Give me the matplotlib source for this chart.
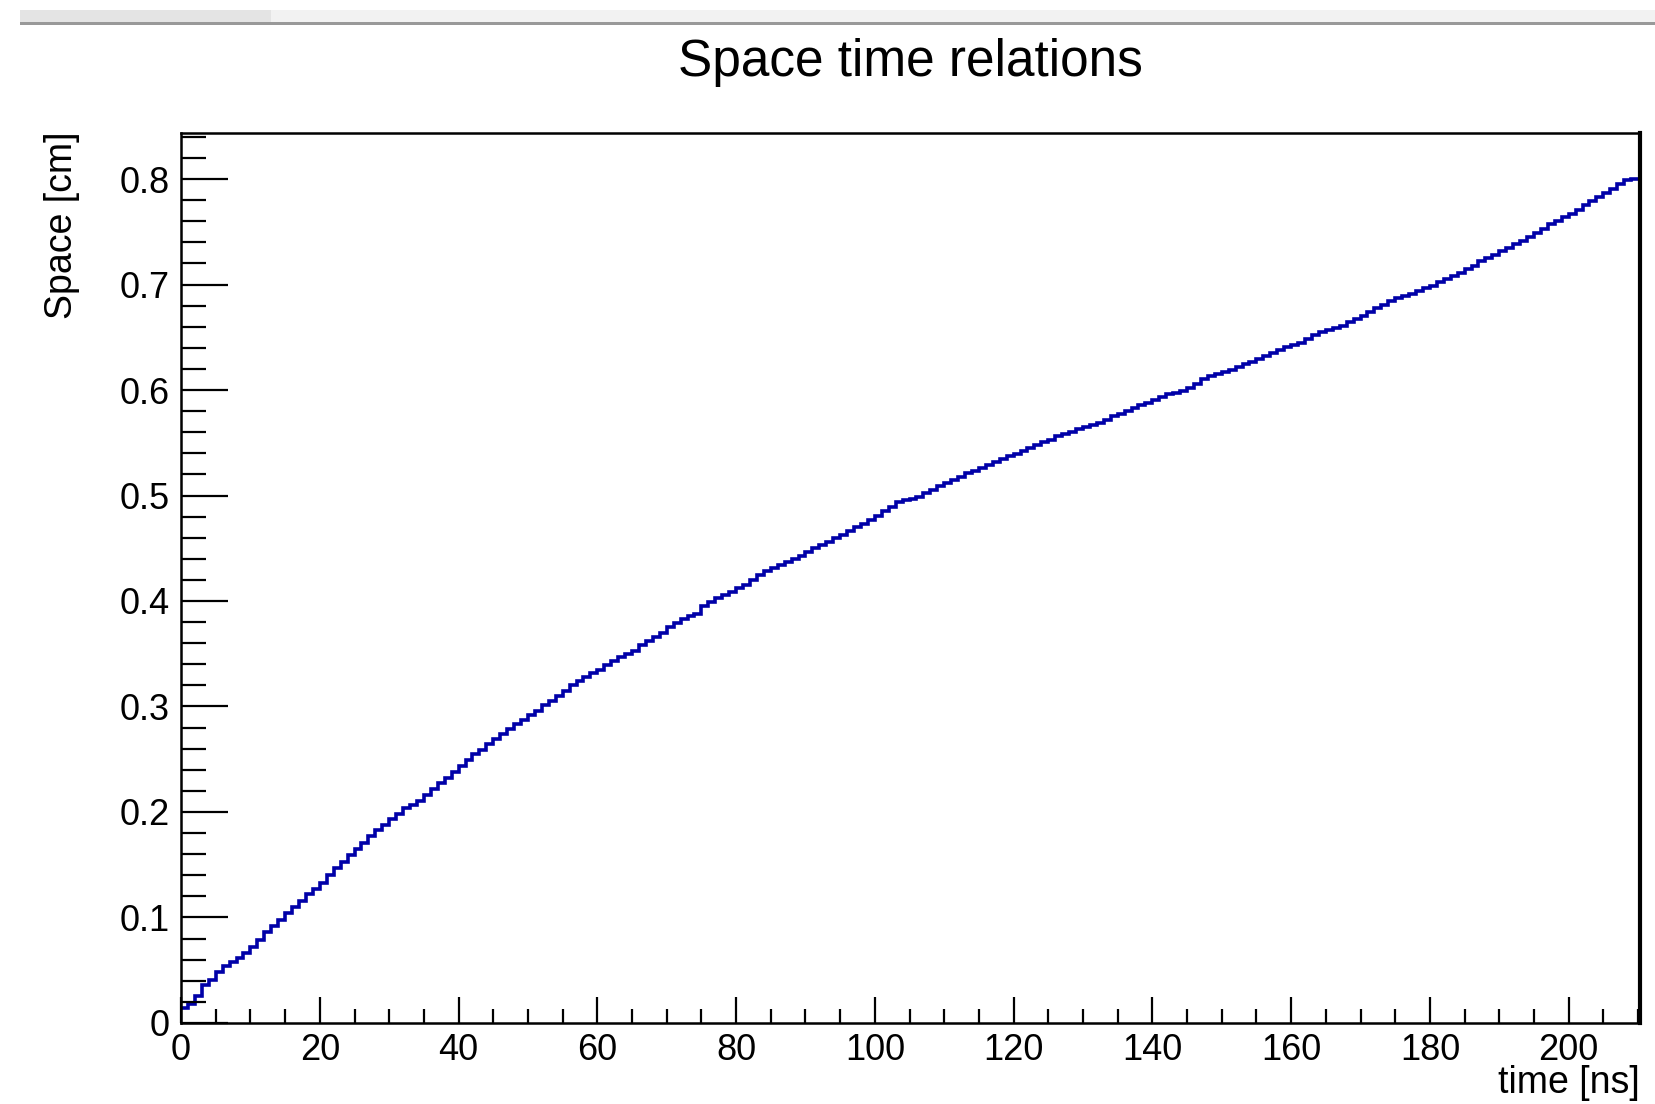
import matplotlib
matplotlib.use("Agg")
import matplotlib.pyplot as plt
from matplotlib.patches import Rectangle
from matplotlib.ticker import MultipleLocator, FuncFormatter
import numpy as np

plt.rcParams['font.family'] = ['Liberation Sans', 'DejaVu Sans']

# drift time bins, 1 ns wide, 0..210 ns
bin_edges = np.arange(0, 211, 1)

# space [cm] per time bin
space = [
    0.014, 0.018, 0.026, 0.036, 0.041, 0.048, 0.054, 0.058, 0.062, 0.066,
    0.072, 0.079, 0.086, 0.092, 0.098, 0.104, 0.110, 0.116, 0.122, 0.127,
    0.133, 0.140, 0.147, 0.153, 0.159, 0.165, 0.171, 0.177, 0.183, 0.188,
    0.193, 0.198, 0.204, 0.207, 0.210, 0.216, 0.222, 0.227, 0.232, 0.238,
    0.244, 0.249, 0.255, 0.259, 0.264, 0.269, 0.274, 0.279, 0.283, 0.287,
    0.292, 0.296, 0.301, 0.305, 0.310, 0.315, 0.320, 0.324, 0.328, 0.332,
    0.335, 0.339, 0.343, 0.347, 0.350, 0.353, 0.358, 0.362, 0.366, 0.370,
    0.375, 0.379, 0.383, 0.386, 0.388, 0.395, 0.399, 0.403, 0.406, 0.409,
    0.412, 0.415, 0.420, 0.425, 0.428, 0.431, 0.434, 0.437, 0.440, 0.443,
    0.446, 0.450, 0.453, 0.456, 0.460, 0.463, 0.466, 0.470, 0.473, 0.477,
    0.481, 0.485, 0.489, 0.494, 0.496, 0.497, 0.499, 0.502, 0.505, 0.509,
    0.512, 0.515, 0.518, 0.521, 0.523, 0.526, 0.529, 0.532, 0.535, 0.537,
    0.539, 0.542, 0.545, 0.548, 0.551, 0.553, 0.556, 0.558, 0.560, 0.563,
    0.565, 0.567, 0.569, 0.572, 0.575, 0.577, 0.580, 0.583, 0.586, 0.588,
    0.591, 0.593, 0.596, 0.597, 0.599, 0.602, 0.606, 0.610, 0.613, 0.615,
    0.617, 0.619, 0.622, 0.625, 0.627, 0.629, 0.632, 0.635, 0.638, 0.641,
    0.643, 0.645, 0.648, 0.652, 0.655, 0.657, 0.659, 0.661, 0.664, 0.667,
    0.670, 0.674, 0.678, 0.681, 0.684, 0.687, 0.689, 0.691, 0.694, 0.697,
    0.699, 0.702, 0.705, 0.708, 0.711, 0.715, 0.718, 0.722, 0.725, 0.728,
    0.732, 0.735, 0.738, 0.741, 0.745, 0.749, 0.753, 0.757, 0.760, 0.764,
    0.767, 0.771, 0.775, 0.779, 0.783, 0.787, 0.791, 0.795, 0.799, 0.800,
]

fig = plt.figure(figsize=(16.55, 11.04), dpi=100)

# window frame fragment at the very top
fig.add_artist(Rectangle((0.012, 0.9800), 0.988, 0.0110, transform=fig.transFigure,
                         facecolor='#f2f2f2', edgecolor='none'))
fig.add_artist(Rectangle((0.012, 0.9800), 0.152, 0.0110, transform=fig.transFigure,
                         facecolor='#e4e4e4', edgecolor='none'))
fig.add_artist(Rectangle((0.012, 0.9775), 0.988, 0.0030, transform=fig.transFigure,
                         facecolor='#999999', edgecolor='none'))

ax = fig.add_axes([0.1094, 0.0734, 0.8816, 0.8061])
ax.stairs(space, bin_edges, baseline=None, color='#0000a8', linewidth=2.6)

ax.set_xlim(0, 210.3)
ax.set_ylim(0, 0.8436)

ax.xaxis.set_major_locator(MultipleLocator(20))
ax.xaxis.set_minor_locator(MultipleLocator(5))
ax.yaxis.set_major_locator(MultipleLocator(0.1))
ax.yaxis.set_minor_locator(MultipleLocator(0.02))
ax.yaxis.set_major_formatter(FuncFormatter(lambda v, p: '0' if abs(v) < 1e-9 else f'{v:.1f}'))

ax.tick_params(axis='both', which='both', direction='in', top=False, right=False,
               labelsize=26, width=1.6, colors='black')
ax.tick_params(axis='y', which='major', length=34, pad=8)
ax.tick_params(axis='y', which='minor', length=18)
ax.tick_params(axis='x', which='major', length=19, pad=7)
ax.tick_params(axis='x', which='minor', length=10)

for side in ['left', 'bottom', 'top']:
    ax.spines[side].set_linewidth(1.8)
ax.spines['right'].set_linewidth(3)

fig.text(0.55, 0.943, 'Space time relations', ha='center', va='center', fontsize=37)
fig.text(0.0375, 0.881, 'Space [cm]', ha='center', va='top', rotation=90, fontsize=27)
fig.text(0.991, 0.019, 'time [ns]', ha='right', va='center', fontsize=27)

plt.savefig('out.png', dpi=100)
